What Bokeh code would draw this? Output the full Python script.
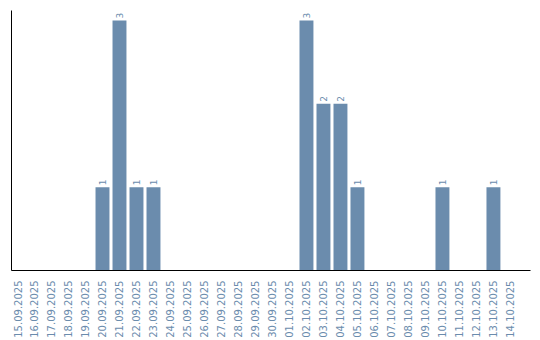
import math
from bokeh.plotting import figure
from bokeh.models import ColumnDataSource, Range1d, FixedTicker
from bokeh.core.properties import value
from bokeh.embed import file_html
from bokeh.resources import INLINE

dates = ["15.09.2025", "16.09.2025", "17.09.2025", "18.09.2025", "19.09.2025",
         "20.09.2025", "21.09.2025", "22.09.2025", "23.09.2025", "24.09.2025",
         "25.09.2025", "26.09.2025", "27.09.2025", "28.09.2025", "29.09.2025",
         "30.09.2025", "01.10.2025", "02.10.2025", "03.10.2025", "04.10.2025",
         "05.10.2025", "06.10.2025", "07.10.2025", "08.10.2025", "09.10.2025",
         "10.10.2025", "11.10.2025", "12.10.2025", "13.10.2025", "14.10.2025"]
counts = [0, 0, 0, 0, 0,
          1, 3, 1, 1, 0,
          0, 0, 0, 0, 0,
          0, 0, 3, 2, 2,
          1, 0, 0, 0, 0,
          1, 0, 0, 1, 0]

COLOR = "#6b8cad"

idx = list(range(len(dates)))
src = ColumnDataSource(dict(x=idx, top=counts))
nz = [i for i, c in enumerate(counts) if c > 0]
lsrc = ColumnDataSource(dict(x=[idx[i] for i in nz], y=[counts[i] for i in nz],
                             label=[str(counts[i]) for i in nz]))

p = figure(width=540, height=340, output_backend="svg", toolbar_location=None,
           x_range=Range1d(-0.353, 30.18), y_range=Range1d(0, 3.12),
           min_border_left=11, min_border_right=10, min_border_top=10,
           min_border_bottom=0)
p.vbar(x="x", top="top", width=0.82, source=src, fill_color=COLOR, line_color=None)
p.text(x="x", y="y", text="label", source=lsrc, angle=math.pi / 2,
       text_align="left", text_baseline="middle", y_offset=-2,
       text_color=COLOR, text_font_size="9px", text_font=value("DejaVu Sans"))

p.xgrid.visible = False
p.ygrid.visible = False
p.outline_line_color = None
p.background_fill_color = "white"

p.yaxis.ticker = FixedTicker(ticks=[])
p.yaxis.major_tick_line_color = None
p.yaxis.minor_tick_line_color = None
p.yaxis.major_label_standoff = 0
p.yaxis.axis_line_color = "black"

p.xaxis.ticker = FixedTicker(ticks=idx)
p.xaxis.major_label_overrides = {i: d for i, d in enumerate(dates)}
p.xaxis.major_label_orientation = math.pi / 2
p.xaxis.major_tick_line_color = None
p.xaxis.minor_tick_line_color = None
p.xaxis.axis_line_color = "black"
p.xaxis.major_label_text_color = COLOR
p.xaxis.major_label_text_font_size = "10px"
p.xaxis.major_label_text_font = "DejaVu Sans"
p.xaxis.major_label_standoff = 4

open("out.html", "w").write(file_html(p, INLINE))
